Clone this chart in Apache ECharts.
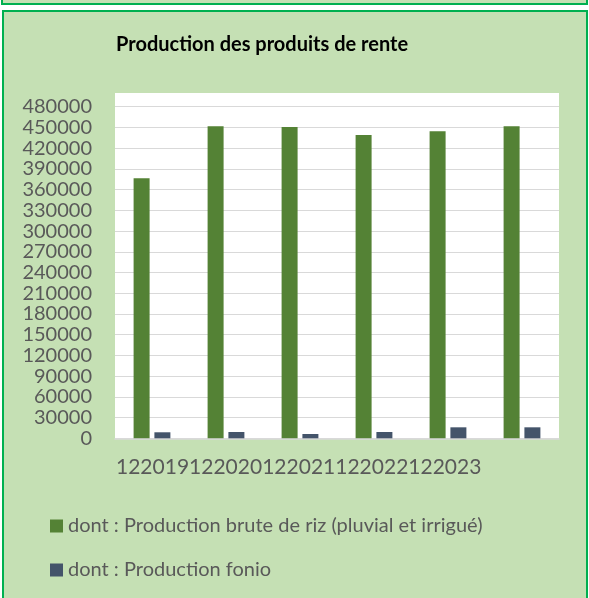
<!DOCTYPE html>
<html>
<head>
<meta charset="utf-8">
<script src="https://cdn.jsdelivr.net/npm/echarts@6/dist/echarts.min.js"></script>
<style>
  html, body { margin: 0; padding: 0; background: #fff; }
  #main { width: 589px; height: 598px; }
</style>
</head>
<body>
<div id="main"></div>
<script>
// donnees
var categories = ['1', '2', '3', '4', '5', '6'];
var xLabels = ['122019', '122020', '122021', '122022', '122023'];
var riz = [376400, 451600, 450700, 439100, 444400, 451600];
var fonio = [8700, 9100, 6200, 9100, 15900, 15900];
var seriesNames = ['dont : Production brute de riz (pluvial et irrigué)', 'dont : Production fonio'];

var myChart = echarts.init(document.getElementById('main'));

var option = {
  animation: false,
  textStyle: { fontFamily: 'Lato' },
  title: {
    text: 'Production des produits de rente',
    left: 116,
    top: 35,
    padding: 0,
    textStyle: { fontFamily: 'Lato', fontWeight: 'bold', fontSize: 20, color: '#000' }
  },
  graphic: [
    // cadre du dessus
    { type: 'rect', z: -10, shape: { x: 2, y: -10, width: 585, height: 14 },
      style: { fill: '#c5e0b4', stroke: '#00b050', lineWidth: 2 } },
    // cadre principal
    { type: 'rect', z: -10, shape: { x: 3, y: 11, width: 584, height: 600 },
      style: { fill: '#c5e0b4', stroke: '#00b050', lineWidth: 2 } },
    // fond blanc de la zone de tracé
    { type: 'rect', z: -9, shape: { x: 115, y: 93, width: 444, height: 346 },
      style: { fill: '#fff' } },
    // libellés de l'axe horizontal
    { type: 'text', left: 116, top: 457,
      style: { text: xLabels.join(''), font: '21px Lato', fill: '#595959' } }
  ],
  legend: {
    orient: 'vertical',
    left: 50,
    top: 516,
    padding: 0,
    itemWidth: 13,
    itemHeight: 13,
    itemGap: 24,
    icon: 'rect',
    data: seriesNames,
    textStyle: { fontFamily: 'Lato', fontSize: 20, lineHeight: 20, color: '#595959' }
  },
  grid: { left: 115, right: 30, top: 106.7, bottom: 159.7 },
  xAxis: {
    type: 'category',
    data: categories,
    axisLine: { lineStyle: { color: '#d9d9d9', width: 1.5 } },
    axisTick: { show: false },
    axisLabel: { show: false }
  },
  yAxis: {
    type: 'value',
    min: 0,
    max: 480000,
    interval: 30000,
    axisLine: { show: false },
    axisTick: { show: false },
    splitLine: { lineStyle: { color: '#d9d9d9', width: 1 } },
    axisLabel: {
      margin: 23, fontFamily: 'Lato', fontSize: 20, lineHeight: 17, color: '#595959',
      showMinLabel: true, showMaxLabel: true, hideOverlap: false,
      formatter: function (v) { return String(v); }
    }
  },
  series: [
    { name: seriesNames[0], type: 'bar', data: riz, barWidth: 16, barGap: '30%',
      itemStyle: { color: '#548235' } },
    { name: seriesNames[1], type: 'bar', data: fonio, barWidth: 16,
      itemStyle: { color: '#44546a' } }
  ]
};

myChart.setOption(option);
</script>
</body>
</html>
